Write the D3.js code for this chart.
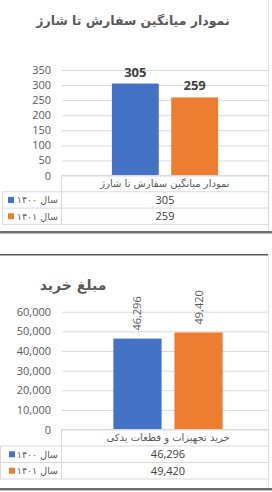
<!DOCTYPE html>
<html>
<head>
  <meta charset="utf-8" />
  <title>Charts</title>
  <style>
    body { margin: 0; background: #fff; }
    svg { display: block; }
    text { font-family: "Open Sans", "DejaVu Sans", sans-serif; }
    .fa { font-family: "DejaVu Sans", sans-serif; }
  </style>
  <script src="https://cdnjs.cloudflare.com/ajax/libs/d3/7.8.5/d3.min.js"></script>
</head>
<body>
  <div id="chartArea"></div>
  <script>
    // data
    var seriesNames = ['سال ۱۴۰۰', 'سال ۱۴۰۱'];
    var seriesColors = ['#4472c4', '#ed7d31'];

    var title1 = 'نمودار میانگین سفارش تا شارژ';
    var category1 = 'نمودار میانگین سفارش تا شارژ';
    var values1 = [305, 259];
    var ticks1 = [0, 50, 100, 150, 200, 250, 300, 350];

    var title2 = 'مبلغ خرید';
    var category2 = 'خرید تجهیزات و قطعات یدکی';
    var values2 = [46296, 49420];
    var ticks2 = [0, 10000, 20000, 30000, 40000, 50000, 60000];

    var w = 272, h = 492;
    var svg = d3.select('#chartArea').append('svg')
      .attr('width', w)
      .attr('height', h);

    var gridColor = '#d9d9d9';
    var textColor = '#595959';
    var frameRight = 268;

    function drawChart(opt) {
      var g = svg.append('g');

      // title
      g.append('text')
        .attr('class', 'fa')
        .attr('x', opt.titleX).attr('y', opt.titleY)
        .attr('text-anchor', 'middle')
        .attr('font-size', opt.titleSize)
        .attr('font-weight', 'bold')
        .attr('fill', '#595959')
        .text(opt.title);

      var y = d3.scaleLinear()
        .domain([0, d3.max(opt.ticks)])
        .range([opt.y0, opt.yTop]);

      // bars are centred a little differently in each chart
      var xOuter = d3.scaleBand()
        .domain([opt.category])
        .range([opt.barX0, opt.barX1])
        .paddingInner(0)
        .paddingOuter(opt.outerPad);

      var x = d3.scaleBand()
        .domain(seriesNames)
        .range([xOuter(opt.category), xOuter(opt.category) + xOuter.bandwidth()])
        .paddingInner(0.21);

      // gridlines + y axis
      var yAxis = d3.axisLeft(y)
        .tickValues(opt.ticks)
        .tickSize(-(frameRight - 62))
        .tickPadding(11)
        .tickFormat(d3.format(','));

      var ag = g.append('g')
        .attr('transform', 'translate(62,0)')
        .call(yAxis);
      ag.select('.domain').remove();
      ag.selectAll('.tick line').attr('stroke', gridColor);
      ag.selectAll('.tick text')
        .attr('fill', textColor)
        .attr('font-size', 11);

      // frame right edge
      g.append('line')
        .attr('x1', frameRight + 0.5).attr('x2', frameRight + 0.5)
        .attr('y1', opt.frameTop).attr('y2', opt.frameBottom)
        .attr('stroke', '#e3e3e3');

      // bars
      g.selectAll('rect.bar')
        .data(opt.values)
        .enter()
        .append('rect')
        .attr('class', 'bar')
        .attr('x', (d, i) => x(seriesNames[i]))
        .attr('y', d => y(d))
        .attr('width', x.bandwidth())
        .attr('height', d => y(0) - y(d))
        .attr('fill', (d, i) => seriesColors[i]);

      // data labels
      if (opt.rotateLabels) {
        g.selectAll('text.lbl')
          .data(opt.values)
          .enter()
          .append('text')
          .attr('class', 'lbl')
          .attr('transform', (d, i) => 'translate(' + (x(seriesNames[i]) + x.bandwidth() / 2 + 4) + ',' + (y(d) - 8) + ') rotate(-90)')
          .attr('text-anchor', 'start')
          .attr('font-size', 11)
          .attr('fill', textColor)
          .text(d => d3.format(',')(d));
      } else {
        g.selectAll('text.lbl')
          .data(opt.values)
          .enter()
          .append('text')
          .attr('class', 'lbl')
          .attr('x', (d, i) => x(seriesNames[i]) + x.bandwidth() / 2)
          .attr('y', d => y(d) - 7)
          .attr('text-anchor', 'middle')
          .attr('font-size', 13)
          .attr('font-weight', 'bold')
          .attr('fill', '#404040')
          .text(d => d3.format(',')(d));
      }

      // data table
      var rowH = opt.rowH;
      var t0 = opt.y0;
      var tx1 = frameRight + 0.5, divX = 61.5;
      var rows = [t0, t0 + rowH, t0 + rowH * 2, t0 + rowH * 3];
      var tg = g.append('g').attr('stroke', gridColor).attr('fill', 'none');
      tg.append('line').attr('x1', divX).attr('x2', tx1).attr('y1', rows[0]).attr('y2', rows[0]);
      [rows[1], rows[2], rows[3]].forEach(function (ry) {
        tg.append('line').attr('x1', opt.tableLeft).attr('x2', tx1).attr('y1', ry).attr('y2', ry);
      });
      tg.append('line').attr('x1', divX).attr('x2', divX).attr('y1', rows[0]).attr('y2', rows[3]);
      tg.append('line').attr('x1', tx1).attr('x2', tx1).attr('y1', rows[0]).attr('y2', rows[3]);
      tg.append('line').attr('x1', opt.tableLeft).attr('x2', opt.tableLeft).attr('y1', rows[1]).attr('y2', rows[3]);

      var cx = xOuter(opt.category) + xOuter.bandwidth() / 2;

      g.append('text')
        .attr('class', 'fa')
        .attr('x', cx).attr('y', rows[0] + rowH / 2 + 3.5)
        .attr('text-anchor', 'middle')
        .attr('font-size', 10)
        .attr('fill', textColor)
        .text(opt.category);

      opt.values.forEach(function (v, i) {
        g.append('text')
          .attr('x', cx).attr('y', rows[i + 1] + rowH / 2 + 4)
          .attr('text-anchor', 'middle')
          .attr('font-size', 11)
          .attr('fill', '#404040')
          .text(d3.format(',')(v));

        g.append('rect')
          .attr('x', opt.keyX).attr('y', rows[i + 1] + rowH / 2 - 3)
          .attr('width', 6).attr('height', 6)
          .attr('fill', seriesColors[i]);

        g.append('text')
          .attr('class', 'fa')
          .attr('x', 58).attr('y', rows[i + 1] + rowH / 2 + 3.5)
          .attr('text-anchor', 'end')
          .attr('font-size', 9.5)
          .attr('fill', textColor)
          .text(seriesNames[i]);
      });
    }

    drawChart({
      title: title1, category: category1, values: values1, ticks: ticks1,
      frameTop: 0, frameBottom: 231,
      titleX: 133, titleY: 25, titleSize: 12.5,
      y0: 175.5, yTop: 70, barX0: 62, barX1: 268, outerPad: 0.47,
      rowH: 16.3, tableLeft: 2.5, keyX: 8,
      rotateLabels: false
    });

    drawChart({
      title: title2, category: category2, values: values2, ticks: ticks2,
      frameTop: 255, frameBottom: 488,
      titleX: 73, titleY: 290, titleSize: 14,
      y0: 429.5, yTop: 311.7, barX0: 62, barX1: 274, outerPad: 0.47,
      rowH: 16.5, tableLeft: 0.5, keyX: 9,
      rotateLabels: true
    });

    // chart frame shadows / separators
    svg.append('rect').attr('x', 0).attr('y', 231).attr('width', w).attr('height', 2).attr('fill', '#6f6f6f');
    svg.append('rect').attr('x', 0).attr('y', 233).attr('width', w).attr('height', 1).attr('fill', '#bdbdbd');
    svg.append('rect').attr('x', 0).attr('y', 254).attr('width', frameRight).attr('height', 1.5).attr('fill', '#5a5a5a');
    svg.append('rect').attr('x', 0).attr('y', 488).attr('width', w).attr('height', 2).attr('fill', '#6f6f6f');
    svg.append('rect').attr('x', 0).attr('y', 490).attr('width', w).attr('height', 1).attr('fill', '#bdbdbd');
  </script>
</body>
</html>
